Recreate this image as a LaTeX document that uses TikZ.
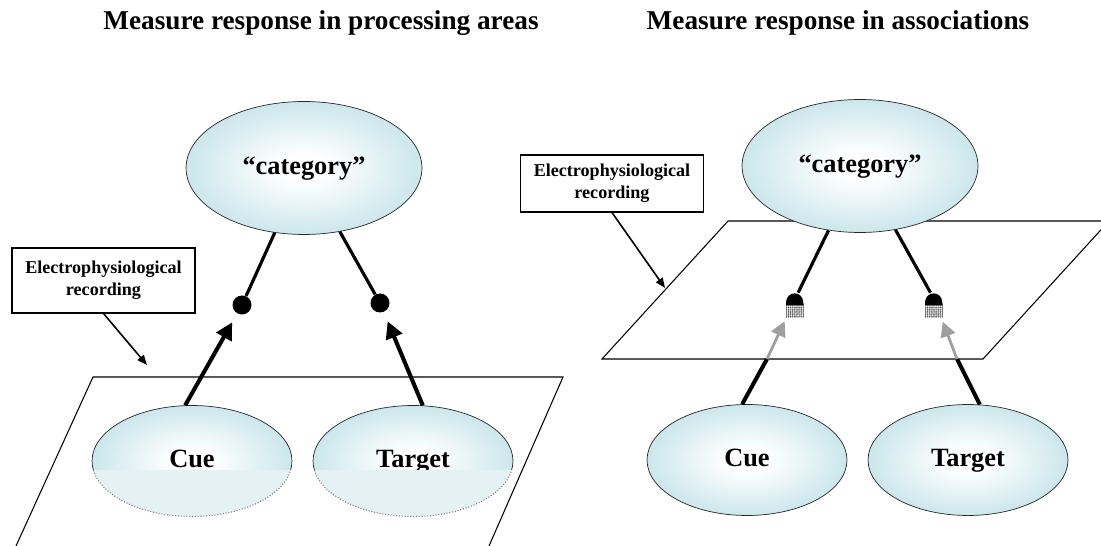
\documentclass[tikz,border=0pt]{standalone}
\usepackage{fontspec}
\setmainfont{Liberation Serif}
\usepackage{tikz}
\usetikzlibrary{arrows.meta, shapes.geometric, patterns.meta}
\definecolor{cellcyan}{RGB}{178,219,225}
\definecolor{inkgray}{RGB}{40,40,40}
\pgfdeclareradialshading{cellglow}{\pgfpoint{0bp}{0bp}}{color(0bp)=(white); color(5bp)=(white); color(35bp)=(cellcyan); color(50bp)=(cellcyan)}

\begin{document}
\begin{tikzpicture}[
    x=0.02cm, y=-0.02cm,
    cell/.style={
        ellipse, draw=inkgray, shading=cellglow,
        inner sep=0pt, text height=0.72em, text depth=0pt,
        font=\fontsize{15}{18}\selectfont\bfseries,
    },
    catnode/.style={cell, minimum width=4.72cm, minimum height=2.66cm},
    endnode/.style={cell, minimum width=4cm, minimum height=2.22cm},
    synapse/.style={circle, fill=black, inner sep=0pt, minimum size=0.38cm},
    bulb/.style={rectangle, inner sep=0pt, minimum width=0.34cm, minimum height=0.24cm},
    recbox/.style={
        draw, line width=0.6pt, align=center, inner sep=0pt,
        minimum width=3.66cm,
        font=\fontsize{10.3}{12.5}\selectfont\bfseries,
    },
    title/.style={font=\fontsize{15.5}{18}\selectfont\bfseries},
    plane/.style={line width=0.6pt},
    lowhalf/.style={fill=cellcyan!35, draw=inkgray!60, densely dotted, line width=0.6pt},
    link/.style={line width=1.8pt},
    feed/.style={line width=2.3pt, -{Triangle[length=0.34cm, width=0.34cm]}, shorten >=0.2cm},
    stem/.style={line width=2.3pt},
    ghost/.style={draw=gray!75, line width=1.6pt, -{Triangle[length=0.3cm, width=0.3cm]}, shorten >=0.35cm},
    pointer/.style={line width=0.9pt, -{Triangle[length=0.2cm, width=0.16cm]}},
]
\useasboundingbox (0,0) rectangle (1101,546);

% processing areas
\node[title] (titleL) at (321,23) {Measure response in processing areas};
\draw[plane] (16,546) -- (93,377) -- (563,377) -- (489,546);
\node[catnode] (catL) at (304,168) {“category”};
\node[endnode] (cueL) at (192,461) {Cue};
\node[endnode] (tgtL) at (413,461) {Target};
\begin{scope}
  \clip (0,471) rectangle (560,546);
  \foreach \e in {cueL,tgtL} {
    \fill[white] (\e.center) ellipse [x radius=2.05cm, y radius=1.18cm];
    \draw[lowhalf] (\e.center) ellipse [x radius=2cm, y radius=1.11cm];
  }
\end{scope}
\node[synapse] (synL1) at (242,305) {};
\node[synapse] (synL2) at (380,303) {};
\node[recbox, minimum height=1.3cm] (recL) at (103.5,280.5) {Electrophysiological\\recording};
\coordinate (hitL) at (147,365);

\draw[link] (catL) -- (synL1);
\draw[link] (catL) -- (synL2);
\draw[feed] (cueL.97) -- (synL1);
\draw[feed] (tgtL.80) -- (synL2);
\draw[pointer] (recL.south) -- (hitL);

% associations
\node[title] (titleR) at (838,23) {Measure response in associations};
\begin{scope}
  \clip (0,0) rectangle (1101,546);
  \draw[plane] (602,359) -- (728,221) -- (1109,221) -- (983,359) -- cycle;
\end{scope}
\node[catnode] (catR) at (860,166) {“category”};
\node[endnode] (cueR) at (747,460) {Cue};
\node[endnode] (tgtR) at (968,460) {Target};
\node[bulb] (bulbR1) at (795,299) {};
\node[bulb] (bulbR2) at (934,299) {};
\foreach \b in {bulbR1,bulbR2} {
  \fill (\b.south west) -- ++(0cm,0.07cm) arc[start angle=180, end angle=0, radius=0.17cm] -- (\b.south east) -- cycle;
  \fill[pattern={Dots[distance=1.2pt, radius=0.55pt]}, pattern color=gray!70!black] (\b.south west) rectangle ([yshift=-0.24cm]\b.south east);
}
\coordinate (xR1) at (767,359);
\coordinate (xR2) at (957,359);
\node[recbox, minimum height=1.14cm] (recR) at (612,183.5) {Electrophysiological\\recording};
\coordinate (hitR) at (665,288);

\draw[link] (catR) -- (bulbR1);
\draw[link] (catR) -- (bulbR2);
\draw[stem] (cueR.95) -- (xR1);
\draw[stem] (tgtR.78) -- (xR2);
\draw[ghost] (xR1) -- (bulbR1);
\draw[ghost] (xR2) -- (bulbR2);
\draw[pointer] (recR.south) -- (hitR);
\end{tikzpicture}
\end{document}
